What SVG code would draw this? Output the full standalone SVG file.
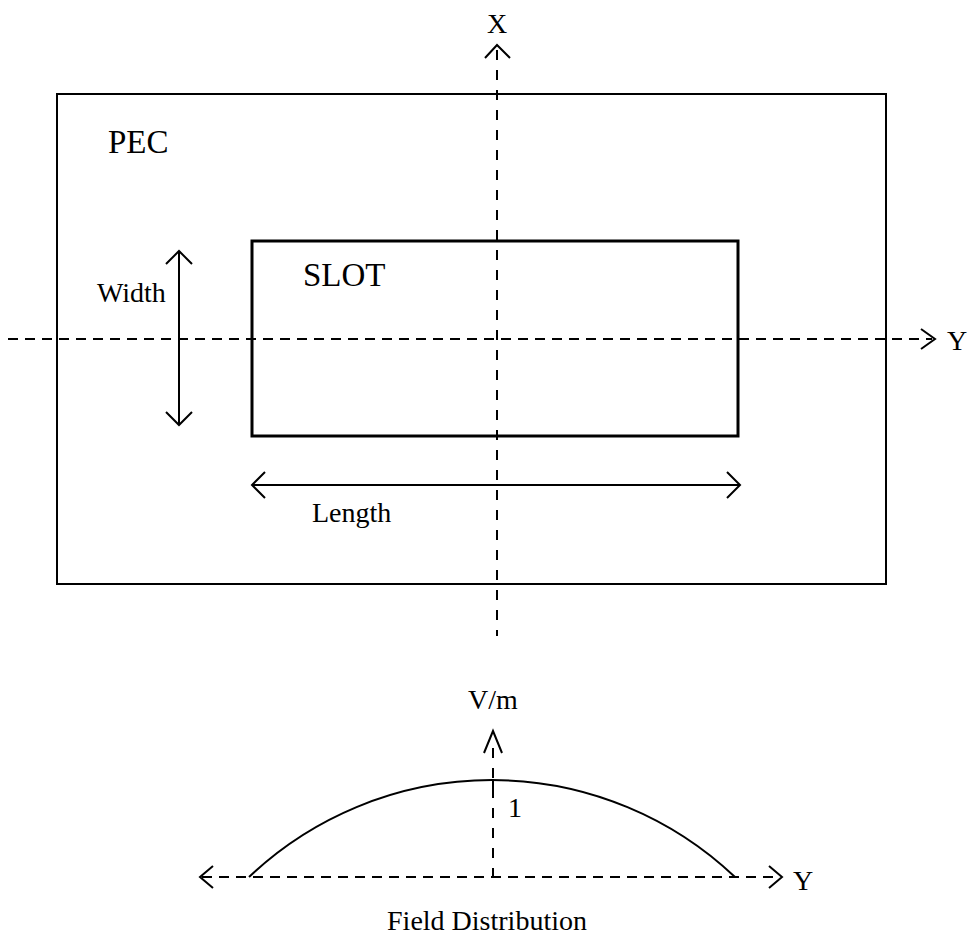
<svg xmlns="http://www.w3.org/2000/svg" width="969" height="940" viewBox="0 0 969 940">
<style>
text{font-family:"Liberation Serif","Times New Roman",serif;fill:#000}
.lbl{font-size:28px}
.big{font-size:33px}
.solid{fill:none;stroke:#000;stroke-width:2}
.dash{fill:none;stroke:#000;stroke-width:2;stroke-dasharray:10 7}
.dashv{fill:none;stroke:#000;stroke-width:2;stroke-dasharray:10 10}
.head{fill:none;stroke:#000;stroke-width:2;stroke-linejoin:miter}
</style>
<rect width="969" height="940" fill="#fff"/>
<g id="node-pec">
<rect x="57" y="94" width="829" height="490" fill="none" stroke="#000" stroke-width="2"/>
<text class="big" x="108" y="153">PEC</text>
</g>
<g id="node-slot">
<rect x="252" y="241" width="486" height="195" fill="none" stroke="#000" stroke-width="3"/>
<text class="big" x="303" y="286">SLOT</text>
</g>
<g id="connectors">
<!-- X axis -->
<line class="dashv" x1="497" y1="50" x2="497" y2="636"/>
<polyline class="head" points="485,58 497,45 510,58"/>
<text class="lbl" x="497" y="33" text-anchor="middle">X</text>
<!-- Y axis -->
<line class="dash" x1="8" y1="339" x2="932" y2="339"/>
<polyline class="head" points="921,329 935,339 921,349"/>
<text class="lbl" x="947" y="350">Y</text>
<!-- Width arrow -->
<line class="solid" x1="179" y1="252" x2="179" y2="424"/>
<polyline class="head" points="166,264 179,251 192,264"/>
<polyline class="head" points="166,412 179,425 192,412"/>
<text class="lbl" x="97" y="302">Width</text>
<!-- Length arrow -->
<line class="solid" x1="253" y1="485" x2="739" y2="485"/>
<polyline class="head" points="265,472 252,485 265,498"/>
<polyline class="head" points="727,472 740,485 727,498"/>
<text class="lbl" x="312" y="522">Length</text>
</g>
<g id="field-plot">
<line class="dash" x1="202" y1="877" x2="780" y2="877"/>
<polyline class="head" points="213,866 200,877 213,888"/>
<polyline class="head" points="769,866 782,877 769,888"/>
<text class="lbl" x="793" y="890">Y</text>
<line class="dashv" x1="493" y1="748" x2="493" y2="877"/>
<line class="solid" x1="493" y1="779" x2="493" y2="790"/>
<polyline class="head" points="484,753 493,731 502,753"/>
<text class="lbl" x="493" y="709" text-anchor="middle">V/m</text>
<path class="solid" d="M249,877 A353,353 0 0 1 735,877"/>
<text class="lbl" x="508" y="817">1</text>
<text class="lbl" x="487" y="930" text-anchor="middle">Field Distribution</text>
</g>
</svg>
